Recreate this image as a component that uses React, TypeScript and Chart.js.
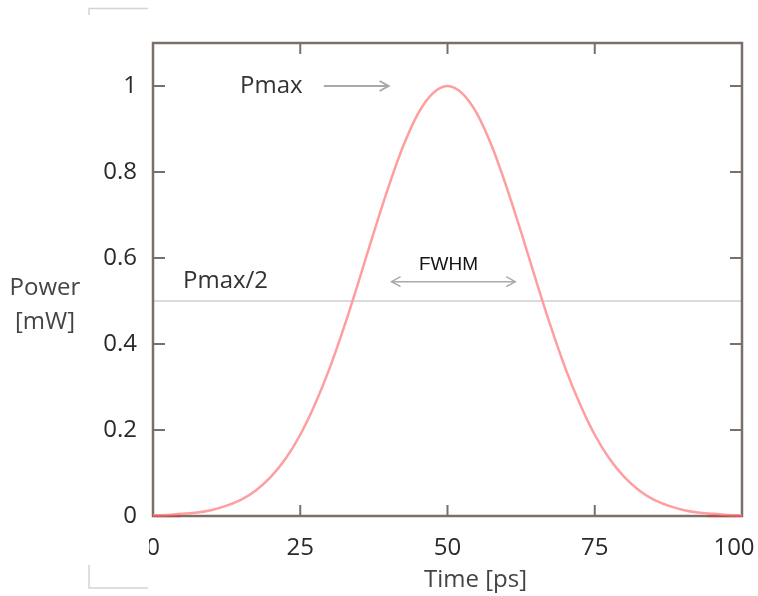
import React, { useEffect, useRef } from "react";
import { Chart, registerables } from "chart.js";

Chart.register(...registerables);

const TIME = [0, 2.5, 5, 7.5, 10, 12.5, 15, 17.5, 20, 22.5, 25, 27.5, 30, 32.5, 35, 37.5, 40, 42.5, 45, 47.5, 50,
  52.5, 55, 57.5, 60, 62.5, 65, 67.5, 70, 72.5, 75, 77.5, 80, 82.5, 85, 87.5, 90, 92.5, 95, 97.5, 100];
const POWER = [0.001, 0.0025, 0.005, 0.008, 0.014, 0.024, 0.038, 0.06, 0.091, 0.133, 0.189, 0.26, 0.344, 0.442, 0.549, 0.66, 0.766, 0.861, 0.936, 0.983, 1.0,
  0.983, 0.936, 0.861, 0.766, 0.66, 0.549, 0.442, 0.344, 0.26, 0.189, 0.133, 0.091, 0.06, 0.038, 0.024, 0.014, 0.008, 0.005, 0.0025, 0.001];

const X_TICKS = [0, 25, 50, 75, 100];
const X_TICK_LABELS = ["0", "25", "50", "75", "100"];
const Y_TICKS = [0, 0.2, 0.4, 0.6, 0.8, 1];
const Y_TICK_LABELS = ["0", "0.2", "0.4", "0.6", "0.8", "1"];
const HALF_LEVEL = 0.5;
const PMAX_LEVEL = 1;
const PMAX_ARROW = [29, 40];
const FWHM_ARROW = [40.5, 61.5];
const FWHM_LABEL_Y = 0.585;
const FWHM_ARROW_Y = 0.545;
const PMAX2_LABEL_Y = 0.545;

const FONT = "'Open Sans', 'Noto Sans', sans-serif";

function arrowHead(ctx: CanvasRenderingContext2D, x: number, y: number, dir: number) {
  ctx.beginPath();
  ctx.moveTo(x - dir * 9, y - 5);
  ctx.lineTo(x, y);
  ctx.lineTo(x - dir * 9, y + 5);
  ctx.stroke();
}

const framePlugin = {
  id: "frame",
  beforeDatasetsDraw(chart: any) {
    const { ctx, chartArea: a, scales } = chart;
    const xs = scales.x, ys = scales.y;
    ctx.save();
    const yh = ys.getPixelForValue(HALF_LEVEL);
    ctx.strokeStyle = "#cfcfcf";
    ctx.lineWidth = 1.5;
    ctx.beginPath();
    ctx.moveTo(a.left, yh);
    ctx.lineTo(a.right, yh);
    ctx.stroke();
    ctx.strokeStyle = "#7b6f6a";
    ctx.lineWidth = 2.5;
    ctx.strokeRect(a.left, a.top, a.right - a.left, a.bottom - a.top);
    ctx.lineWidth = 2;
    X_TICKS.forEach((v) => {
      if (v === 0 || v === 100) return;
      const px = xs.getPixelForValue(v);
      ctx.beginPath();
      ctx.moveTo(px, a.bottom);
      ctx.lineTo(px, a.bottom - 11);
      ctx.moveTo(px, a.top);
      ctx.lineTo(px, a.top + 11);
      ctx.stroke();
    });
    Y_TICKS.forEach((v) => {
      if (v === 0) return;
      const py = ys.getPixelForValue(v);
      ctx.beginPath();
      ctx.moveTo(a.left, py);
      ctx.lineTo(a.left + 12, py);
      ctx.moveTo(a.right, py);
      ctx.lineTo(a.right - 12, py);
      ctx.stroke();
    });
    ctx.restore();
  },
  afterDatasetsDraw(chart: any) {
    const { ctx, chartArea: a } = chart;
    // darker red where the curve runs along the baseline
    ctx.save();
    ctx.strokeStyle = "rgba(200,60,60,0.55)";
    ctx.lineWidth = 2.5;
    ctx.beginPath();
    ctx.moveTo(a.left, a.bottom);
    ctx.lineTo(a.left + 28, a.bottom);
    ctx.moveTo(a.right - 35, a.bottom);
    ctx.lineTo(a.right, a.bottom);
    ctx.stroke();
    ctx.restore();
  },
  afterDraw(chart: any) {
    const { ctx, chartArea: a, scales } = chart;
    const xs = scales.x, ys = scales.y;
    ctx.save();
    ctx.fillStyle = "#2a2a2a";
    ctx.font = `24px ${FONT}`;
    ctx.textAlign = "right";
    ctx.textBaseline = "middle";
    Y_TICKS.forEach((v, i) => {
      ctx.fillText(Y_TICK_LABELS[i], a.left - 16, ys.getPixelForValue(v));
    });
    ctx.save();
    ctx.beginPath();
    ctx.rect(a.left - 4, a.bottom, 1000, 200);
    ctx.clip();
    ctx.textAlign = "center";
    X_TICKS.forEach((v, i) => {
      let px = xs.getPixelForValue(v);
      if (i === X_TICKS.length - 1) px -= 8;
      ctx.fillText(X_TICK_LABELS[i], px, a.bottom + 32);
    });
    ctx.restore();
    ctx.fillStyle = "#444444";
    ctx.textAlign = "center";
    ctx.fillText("Time [ps]", (a.left + a.right) / 2 + 28, a.bottom + 64);
    ctx.fillText("Power", 45, 288);
    ctx.fillText("[mW]", 45, 322);
    ctx.fillStyle = "#333333";
    ctx.textAlign = "left";
    ctx.fillText("Pmax", 240, ys.getPixelForValue(PMAX_LEVEL));
    ctx.fillText("Pmax/2", 183, ys.getPixelForValue(PMAX2_LABEL_Y));
    ctx.font = "19px 'Liberation Sans', Arial, sans-serif";
    ctx.fillStyle = "#151515";
    ctx.fillText("FWHM", 419, ys.getPixelForValue(FWHM_LABEL_Y));
    ctx.strokeStyle = "#a9a9a9";
    ctx.lineWidth = 2;
    const py1 = ys.getPixelForValue(PMAX_LEVEL);
    const ax1 = xs.getPixelForValue(PMAX_ARROW[0]);
    const ax2 = xs.getPixelForValue(PMAX_ARROW[1]);
    ctx.beginPath();
    ctx.moveTo(ax1, py1);
    ctx.lineTo(ax2, py1);
    ctx.stroke();
    arrowHead(ctx, ax2, py1, 1);
    const py2 = ys.getPixelForValue(FWHM_ARROW_Y);
    const bx1 = xs.getPixelForValue(FWHM_ARROW[0]);
    const bx2 = xs.getPixelForValue(FWHM_ARROW[1]);
    ctx.lineWidth = 1.5;
    ctx.beginPath();
    ctx.moveTo(bx1, py2);
    ctx.lineTo(bx2, py2);
    ctx.stroke();
    arrowHead(ctx, bx1, py2, -1);
    arrowHead(ctx, bx2, py2, 1);
    ctx.strokeStyle = "#d4d4d4";
    ctx.lineWidth = 1.5;
    ctx.beginPath();
    ctx.moveTo(89, 15);
    ctx.lineTo(89, 8.5);
    ctx.lineTo(148, 8.5);
    ctx.moveTo(89, 565);
    ctx.lineTo(89, 588);
    ctx.lineTo(148, 588);
    ctx.stroke();
    ctx.restore();
  },
};

export default function App() {
  const ref = useRef<HTMLCanvasElement>(null);
  useEffect(() => {
    if (!ref.current) return;
    const chart = new Chart(ref.current, {
      type: "line",
      data: {
        datasets: [
          {
            data: TIME.map((t, i) => ({ x: t, y: POWER[i] })),
            borderColor: "#ff9e9e",
            borderWidth: 2.5,
            pointRadius: 0,
            cubicInterpolationMode: "monotone",
            fill: false,
            clip: false as any,
          },
        ],
      },
      options: {
        responsive: false,
        animation: false,
        layout: { padding: { left: 153, top: 43, right: 16, bottom: 80 } },
        plugins: { legend: { display: false }, tooltip: { enabled: false }, title: { display: false } },
        scales: {
          x: { type: "linear", min: 0, max: 100, display: false },
          y: { type: "linear", min: 0, max: 1.1, display: false },
        },
      },
      plugins: [framePlugin],
    });
    return () => chart.destroy();
  }, []);
  return (
    <div style={{ position: "fixed", left: 0, top: 0, width: 758, height: 596, background: "#fff" }}>
      <canvas ref={ref} width={758} height={596} style={{ display: "block" }} />
    </div>
  );
}
